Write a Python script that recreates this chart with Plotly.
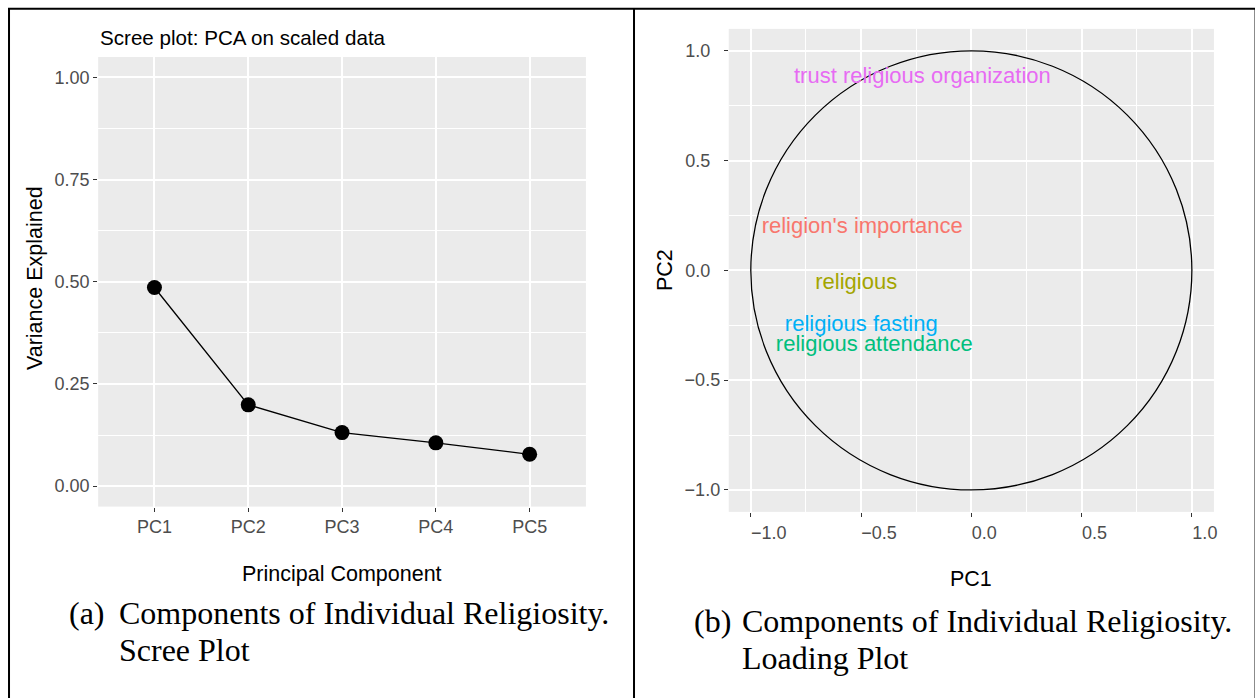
import plotly.graph_objects as go

# ---------------- data ----------------
components = ["PC1", "PC2", "PC3", "PC4", "PC5"]
variance_explained = [0.486, 0.199, 0.131, 0.106, 0.078]

variables = ["religion's importance", "religious", "religious attendance",
             "religious fasting", "trust religious organization"]
pc1_loadings = [-0.495, -0.522, -0.440, -0.499, -0.222]
pc2_loadings = [0.196, -0.061, -0.342, -0.249, 0.880]
variable_colors = ["#F8766D", "#A3A500", "#00BF7D", "#00B0F6", "#E76BF3"]

scree_y_ticks = [0, 0.25, 0.5, 0.75, 1.0]
scree_y_labels = ["0.00", "0.25", "0.50", "0.75", "1.00"]
loading_ticks = [-1.0, -0.5, 0.0, 0.5, 1.0]
NB = "\u00a0\u00a0"
loading_labels = ["\u22121.0", "\u22120.5", "0.0" + NB, "0.5" + NB, "1.0" + NB]

# ---------------- geometry helpers ----------------
W, H = 1255, 698          # reference frame (positions are given in these pixels)
FIG_W = 1270              # page width that the screenshot maps onto 1255 px
def px(x):
    return x / W
def py(y):
    return 1 - y / H

SANS = "Liberation Sans, Arial, Helvetica, sans-serif"
SERIF = "Liberation Serif, Times New Roman, serif"
TICK_COLOR = "#4D4D4D"

fig = go.Figure()

fig.add_trace(go.Scatter(
    x=components, y=variance_explained, mode="lines+markers",
    line=dict(color="black", width=1.3),
    marker=dict(color="black", size=15),
    xaxis="x", yaxis="y", showlegend=False, hoverinfo="x+y",
))

fig.add_trace(go.Scatter(
    x=pc1_loadings, y=pc2_loadings, mode="text", text=variables,
    textposition="middle center",
    textfont=dict(family=SANS, size=22, color=variable_colors),
    xaxis="x2", yaxis="y2", showlegend=False,
))

common = dict(
    showgrid=True, gridcolor="white", gridwidth=1.5,
    zeroline=False, showline=False,
    ticks="outside", ticklen=4, tickwidth=1.2, tickcolor="#333333",
    tickfont=dict(family=SANS, size=18, color=TICK_COLOR),
    fixedrange=True,
)
minor_grid = dict(showgrid=True, gridcolor="white", gridwidth=0.8)

fig.update_layout(
    width=FIG_W, height=H,
    margin=dict(l=0, r=0, t=0, b=0),
    paper_bgcolor="white", plot_bgcolor="#EBEBEB",
    showlegend=False,
    xaxis=dict(domain=[px(98), px(585)], anchor="y", type="category",
               categoryorder="array", categoryarray=components,
               range=[-0.6, 4.6], **common),
    yaxis=dict(domain=[py(506.6), py(57)], anchor="x", range=[-0.05, 1.05],
               tickvals=scree_y_ticks, ticktext=scree_y_labels,
               minor=dict(tick0=0.125, dtick=0.25, **minor_grid), **common),
    xaxis2=dict(domain=[px(727.6), px(1212)], anchor="y2", range=[-1.1, 1.1],
                tickvals=loading_ticks, ticktext=loading_labels,
                ticklabelshift=18,
                minor=dict(tick0=0.25, dtick=0.5, **minor_grid), **common),
    yaxis2=dict(domain=[py(511.9), py(28.9)], anchor="x2", range=[-1.1, 1.1],
                tickvals=loading_ticks, ticktext=loading_labels,
                minor=dict(tick0=0.25, dtick=0.5, **minor_grid), **common),
)

# unit circle of the loading plot
fig.add_shape(type="circle", xref="x2", yref="y2", x0=-1, y0=-1, x1=1, y1=1,
              line=dict(color="black", width=1.3), layer="between")

# frame lines
frame = dict(type="line", xref="paper", yref="paper")
fig.add_shape(x0=px(8), x1=px(1254), y0=py(8.7), y1=py(8.7),
              line=dict(color="black", width=2), **frame)
fig.add_shape(x0=px(9), x1=px(9), y0=py(8), y1=py(705),
              line=dict(color="black", width=2), **frame)
fig.add_shape(x0=px(633), x1=px(633), y0=py(8), y1=py(705),
              line=dict(color="black", width=2), **frame)
fig.add_shape(x0=px(1253.3), x1=px(1253.3), y0=py(8), y1=py(705),
              line=dict(color="black", width=1.5), **frame)

def note(text, x, y, size, family=SANS, xanchor="center", angle=0, color="black"):
    fig.add_annotation(text=text, x=px(x), y=py(y), xref="paper", yref="paper",
                       xanchor=xanchor, yanchor="middle", showarrow=False,
                       textangle=angle, font=dict(family=family, size=size, color=color))

# titles
note("Scree plot: PCA on scaled data", 98, 37, 20.6, xanchor="left")
note("Variance Explained", 35, 278, 21.5, angle=-90)
note("Principal Component", 341, 574, 21.5)
note("PC2", 664, 270, 21.5, angle=-90)
note("PC1", 969, 579, 21.5)

# captions
note("(a)", 67, 613, 32, family=SERIF, xanchor="left")
note("Components of Individual Religiosity.", 116.5, 613, 32, family=SERIF, xanchor="left")
note("Scree Plot", 116.5, 650, 32, family=SERIF, xanchor="left")
note("(b)", 691, 621, 32, family=SERIF, xanchor="left")
note("Components of Individual Religiosity.", 738.4, 621, 32, family=SERIF, xanchor="left")
note("Loading Plot", 738.4, 658, 32, family=SERIF, xanchor="left")

page_fix = (
    "var s='margin:0;padding:0;overflow:hidden;';"
    "document.documentElement.style.cssText=s;document.body.style.cssText=s;"
)
fig.write_html("out.html", config={"displayModeBar": False}, post_script=page_fix)
